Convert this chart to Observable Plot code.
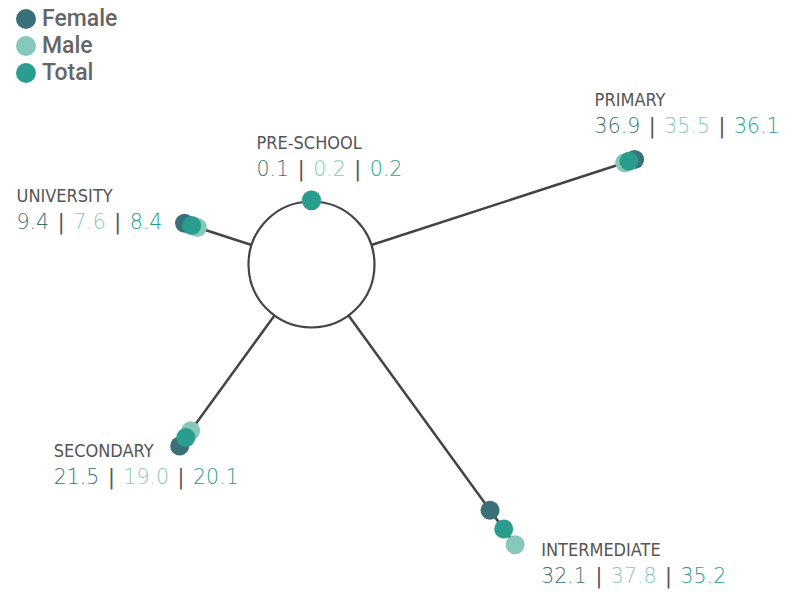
<!DOCTYPE html>
<html>
<head>
<meta charset="utf-8">
<script src="https://cdn.jsdelivr.net/npm/d3@7"></script>
<script src="https://cdn.jsdelivr.net/npm/@observablehq/plot@0.6"></script>
<style>
  html, body { margin: 0; padding: 0; background: #fff; }
  #wrap { position: relative; width: 798px; height: 592px; }
  #legend { position: absolute; left: 16px; top: 5px; font-family: Roboto, sans-serif; font-weight: 500; font-size: 23px; color: #666; }
  #legend .item { display: flex; align-items: center; height: 27px; }
  #legend .sw { width: 20px; height: 20px; border-radius: 50%; margin-right: 6px; }
</style>
</head>
<body>
<div id="wrap"><div id="chart"></div><div id="legend"></div></div>
<script>
// ---- data ----
const categories = ["PRE-SCHOOL", "PRIMARY", "INTERMEDIATE", "SECONDARY", "UNIVERSITY"];
const female = [0.1, 36.9, 32.1, 21.5, 9.4];
const male   = [0.2, 35.5, 37.8, 19.0, 7.6];
const total  = [0.2, 36.1, 35.2, 20.1, 8.4];
const seriesNames = ["Female", "Male", "Total"];

// ---- style / layout ----
const colors = ["#3a7078", "#86c8b9", "#2a9d8f"];
const W = 798, H = 592;
const cx = 311, cy = 264;      // centre of the hub in pixels
const k = 7.5;                 // pixels per percentage point
const hubR = 63;               // hub radius in pixels
const r0 = hubR / k;           // hub radius in data units
const startAngle = -90, step = 72;
// label offsets (pixels) relative to the outermost dot of each spoke
const labelLayout = {
  "PRE-SCHOOL":   {dx: -55,  dy: -51},
  "PRIMARY":      {dx: -40,  dy: -54},
  "INTERMEDIATE": {dx: 26,   dy: 11},
  "SECONDARY":    {dx: -126, dy: 11},
  "UNIVERSITY":   {dx: -168, dy: -21}
};
const valueGap = 27; // baseline distance between name and values

const seriesVals = [female, male, total];
const rad = d => d * Math.PI / 180;

const spokes = categories.map((c, i) => {
  const a = rad(startAngle + step * i);
  const vmax = Math.max(female[i], male[i], total[i]);
  const rmax = r0 + vmax;
  const ox = rmax * Math.cos(a), oy = rmax * Math.sin(a);
  const L = labelLayout[c];
  return {
    cat: c, i,
    x1: r0 * Math.cos(a), y1: r0 * Math.sin(a),
    x2: ox, y2: oy,
    lx: ox + L.dx / k, ly: oy + L.dy / k, vy: oy + (L.dy + valueGap) / k,
    parts: seriesVals.map(s => s[i].toFixed(1))
  };
});

const dots = [];
seriesNames.forEach((s, j) => {
  categories.forEach((c, i) => {
    const a = rad(startAngle + step * i);
    const r = r0 + seriesVals[j][i];
    dots.push({cat: c, series: s, value: seriesVals[j][i], x: r * Math.cos(a), y: r * Math.sin(a)});
  });
});

const SEP = " | ";
const SEP_DRAWN = "\u00a0\u200a|\u200a\u00a0";
const chart = Plot.plot({
  width: W, height: H,
  margin: 0,
  x: {domain: [-cx / k, (W - cx) / k], range: [0, W], axis: null},
  y: {domain: [-cy / k, (H - cy) / k], range: [0, H], axis: null},
  color: {domain: seriesNames, range: colors},
  style: {fontFamily: "Roboto, sans-serif", background: "#fff"},
  marks: [
    Plot.link(spokes, {x1: "x1", y1: "y1", x2: "x2", y2: "y2", stroke: "#444", strokeWidth: 2.5}),
    Plot.dot([{x: 0, y: 0}], {x: "x", y: "y", r: hubR, stroke: "#444", strokeWidth: 2.2, fill: "#fff"}),
    Plot.dot(dots, {x: "x", y: "y", r: 9.5, fill: "series", stroke: null}),
    Plot.text(spokes, {x: "lx", y: "ly", text: "cat", textAnchor: "start", lineAnchor: "bottom",
      fill: "#555", fontSize: 18, fontFamily: "DejaVu Sans"}),
    Plot.text(spokes, {x: "lx", y: "vy", text: d => d.parts.join(SEP), textAnchor: "start", lineAnchor: "bottom",
      fill: "#555", fontSize: 20.5, fontFamily: "DejaVu Sans", fontWeight: 200})
  ]
});

document.getElementById("chart").appendChild(chart);

const svg = d3.select(chart);
// condensed names
svg.selectAll("text").filter(function() { return categories.includes(this.textContent); })
  .style("font-stretch", "condensed");

// colour each value part
svg.selectAll("text").filter(function() { return this.textContent.includes("|"); })
  .each(function() {
    const txt = this.textContent;
    const sp = spokes.find(s => s.parts.join(SEP) === txt);
    if (!sp) return;
    const t = d3.select(this);
    t.text(null);
    sp.parts.forEach((p, j) => {
      if (j > 0) t.append("tspan").style("fill", "#555").style("font-weight", 400).text(SEP_DRAWN);
      t.append("tspan").style("fill", colors[j]).text(p);
    });
  });

// legend
const lg = d3.select("#legend");
seriesNames.forEach((s, j) => {
  const it = lg.append("div").attr("class", "item");
  it.append("div").attr("class", "sw").style("background", colors[j]);
  it.append("span").text(s);
});
</script>
</body>
</html>
